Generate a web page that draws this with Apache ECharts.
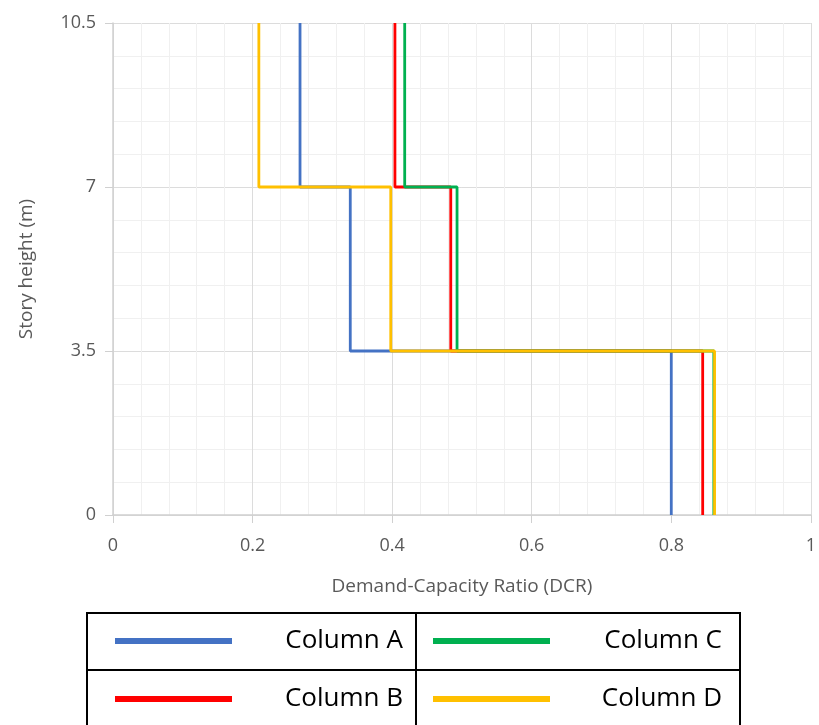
<!DOCTYPE html>
<html><head><meta charset="utf-8">
<script src="https://cdn.jsdelivr.net/npm/echarts@6/dist/echarts.min.js"></script>
<style>html,body{margin:0;padding:0;background:#fff}#c{width:819px;height:725px}</style>
</head><body><div id="c"></div>
<script>
const storyHeights = [0, 3.5, 7, 10.5];
const seriesNames = ['Column A', 'Column B', 'Column C', 'Column D'];
const colA = [0.80, 0.34, 0.268];
const colB = [0.845, 0.484, 0.404];
const colC = [0.861, 0.493, 0.418];
const colD = [0.862, 0.398, 0.209];
const xTicks = [0, 0.2, 0.4, 0.6, 0.8, 1];
const yTicks = [0, 3.5, 7, 10.5];
const colors = ['#4472C4', '#FF0000', '#00B050', '#FFC000'];

function stepData(vals) {
  const d = [];
  for (let i = 0; i < vals.length; i++) {
    d.push([vals[i], storyHeights[i]]);
    d.push([vals[i], storyHeights[i + 1]]);
  }
  return d;
}
const allVals = [colA, colB, colC, colD];
const chart = echarts.init(document.getElementById('c'));
const font = 'Open Sans';

// legend table graphic
const tblL = 87, tblR = 740, tblM = 416, tblT = 613, tblRow = 670, tblB = 728;
const legendOrder = [[0, 0], [2, 1], [1, 0], [3, 1]]; // [seriesIndex, column]
const graphics = [
  {type: 'rect', shape: {x: tblL, y: tblT, width: tblR - tblL, height: tblB - tblT}, style: {fill: 'none', stroke: '#000', lineWidth: 2}},
  {type: 'line', shape: {x1: tblM, y1: tblT, x2: tblM, y2: tblB}, style: {stroke: '#000', lineWidth: 2}},
  {type: 'line', shape: {x1: tblL, y1: tblRow, x2: tblR, y2: tblRow}, style: {stroke: '#000', lineWidth: 2}}
];
legendOrder.forEach((p, k) => {
  const si = p[0], col = p[1];
  const row = k < 2 ? 0 : 1;
  const cy = row === 0 ? 641 : 699;
  const x0 = col === 0 ? 115 : 433;
  const xr = col === 0 ? 403 : 722;
  graphics.push({type: 'line', shape: {x1: x0, y1: cy, x2: x0 + 117, y2: cy}, style: {stroke: colors[si], lineWidth: 6}});
  graphics.push({type: 'text', x: xr, y: cy, style: {text: seriesNames[si], fill: '#000', font: '26px "' + font + '"', textAlign: 'right', textVerticalAlign: 'middle'}});
});

chart.setOption({
  animation: false,
  grid: {left: 113, right: 8, top: 23, bottom: 210},
  xAxis: {
    type: 'value', min: 0, max: 1, interval: 0.2,
    name: 'Demand-Capacity Ratio (DCR)', nameLocation: 'middle', nameGap: 62,
    nameTextStyle: {color: '#595959', fontSize: 19, fontFamily: font},
    axisLine: {show: true, onZero: false, lineStyle: {color: '#d0d0d0', width: 1.5}},
    axisTick: {show: true, length: 8, lineStyle: {color: '#d0d0d0'}},
    axisLabel: {color: '#595959', fontSize: 18, fontFamily: font, margin: 22, formatter: v => String(+v.toFixed(2))},
    splitLine: {show: true, lineStyle: {color: '#dcdcdc', width: 1}},
    minorTick: {show: false, splitNumber: 5},
    minorSplitLine: {show: true, lineStyle: {color: '#f0f0f0', width: 1}}
  },
  yAxis: {
    type: 'value', min: 0, max: 10.5, interval: 3.5,
    name: 'Story height (m)', nameLocation: 'middle', nameGap: 77, nameRotate: 90,
    nameTextStyle: {color: '#595959', fontSize: 19, fontFamily: font},
    axisLine: {show: true, lineStyle: {color: '#d0d0d0', width: 1.5}},
    axisTick: {show: true, length: 8, lineStyle: {color: '#d0d0d0'}},
    axisLabel: {color: '#595959', fontSize: 18, fontFamily: font, margin: 17},
    splitLine: {show: true, lineStyle: {color: '#dcdcdc', width: 1}},
    minorTick: {show: false, splitNumber: 5},
    minorSplitLine: {show: true, lineStyle: {color: '#f0f0f0', width: 1}}
  },
  series: allVals.map((v, i) => ({
    name: seriesNames[i], type: 'line', data: stepData(v), showSymbol: false,
    lineStyle: {color: colors[i], width: 2.8}, itemStyle: {color: colors[i]}
  })),
  graphic: graphics
});
</script></body></html>
